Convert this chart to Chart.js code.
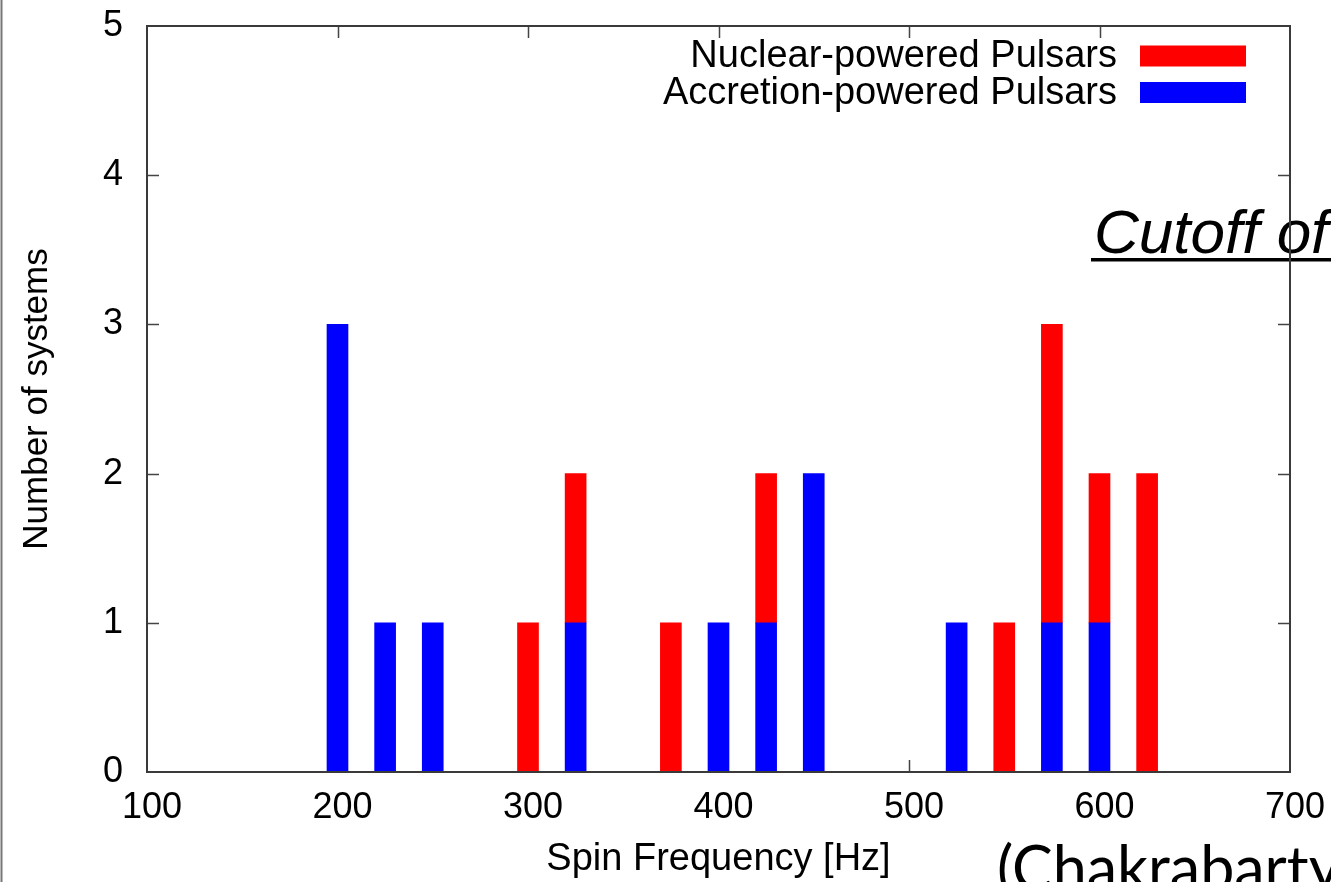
<!DOCTYPE html>
<html>
<head>
<meta charset="utf-8">
<script src="https://cdn.jsdelivr.net/npm/chart.js@4/dist/chart.umd.min.js"></script>
<style>
html,body{margin:0;padding:0;background:#fff;}
canvas{display:block;}
</style>
</head>
<body>
<canvas id="c" width="1331" height="882"></canvas>
<script>
// ---- data ----
const accretionFreq  = [200, 225, 250, 325, 400, 425, 450, 525, 575, 600];
const accretionCount = [3,   1,   1,   1,   1,   1,   2,   1,   1,   1];
const nuclearFreq    = [300, 325, 375, 425, 550, 575, 600, 625];
const nuclearCount   = [1,   1,   1,   1,   1,   2,   1,   2];
const seriesLabels   = ["Accretion-powered Pulsars", "Nuclear-powered Pulsars"];
const xAxisTitle     = "Spin Frequency [Hz]";
const yAxisTitle     = "Number of systems";
const noteText       = "Cutoff of";
const refText        = "(Chakrabarty";

const toPoints = (xs, ys) => xs.map((v, i) => ({x: v, y: ys[i]}));

const FONT = "'Liberation Sans', Arial, Helvetica, sans-serif";

const frameTicks = {
  id: 'frameTicks',
  beforeDatasetsDraw(chart) {
    const {ctx, chartArea: {left, right, top, bottom}, scales: {x, y}} = chart;
    ctx.save();
    ctx.strokeStyle = '#444';
    ctx.lineWidth = 1.5;
    ctx.beginPath();
    x.ticks.forEach(t => {
      const px = Math.round(x.getPixelForValue(t.value)) + 0.5;
      if (px <= left + 2 || px >= right - 2) return;
      ctx.moveTo(px, bottom); ctx.lineTo(px, bottom - 12);
      ctx.moveTo(px, top); ctx.lineTo(px, top + 12);
    });
    y.ticks.forEach(t => {
      const py = Math.round(y.getPixelForValue(t.value)) + 0.5;
      if (py <= top + 2 || py >= bottom - 2) return;
      ctx.moveTo(left, py); ctx.lineTo(left + 12, py);
      ctx.moveTo(right, py); ctx.lineTo(right - 12, py);
    });
    ctx.stroke();
    ctx.restore();
  },
  afterDatasetsDraw(chart) {
    const {ctx, chartArea: {left, right, top, bottom}} = chart;
    ctx.save();
    ctx.strokeStyle = '#3a3a3a';
    ctx.lineWidth = 2;
    ctx.strokeRect(Math.round(left), Math.round(top), Math.round(right - left), Math.round(bottom - top));
    ctx.restore();
  },
  afterDraw(chart) {
    const {ctx, chartArea: {right, top}} = chart;
    ctx.save();
    // legend (reverse dataset order, text right-aligned, swatch right)
    const ds = chart.data.datasets.slice().reverse();
    ctx.font = "38px " + FONT;
    ctx.textAlign = 'right';
    ctx.textBaseline = 'middle';
    ds.forEach((d, i) => {
      const cy = 56 + i * 36.5;
      ctx.fillStyle = '#000';
      ctx.fillText(d.label, 1117, cy + 1);
      ctx.fillStyle = d.backgroundColor;
      ctx.fillRect(1140, cy - 10.5, 106, 21);
    });
    // overlay note
    ctx.fillStyle = '#000';
    ctx.textAlign = 'left';
    ctx.textBaseline = 'alphabetic';
    ctx.font = "italic 62px " + FONT;
    ctx.fillText(noteText, 1094, 253);
    ctx.fillRect(1091, 258, 245, 3.5);
    // reference
    ctx.font = "61px Lato, 'Open Sans', sans-serif";
    ctx.fillText(refText, 997, 890);
    // left edge line
    ctx.strokeStyle = '#777';
    ctx.lineWidth = 2;
    ctx.beginPath();
    ctx.moveTo(1.5, 0); ctx.lineTo(1.5, 882);
    ctx.stroke();
    // redraw right frame over note
    ctx.strokeStyle = '#3a3a3a';
    ctx.lineWidth = 2;
    ctx.beginPath();
    ctx.moveTo(Math.round(right), top); ctx.lineTo(Math.round(right), chart.chartArea.bottom);
    ctx.stroke();
    ctx.restore();
  }
};

function zeroPad(s) { s.paddingTop = 0; s.paddingBottom = 0; s.paddingLeft = 0; s.paddingRight = 0; }

new Chart(document.getElementById('c'), {
  type: 'bar',
  data: {
    datasets: [
      {label: seriesLabels[0], data: toPoints(accretionFreq, accretionCount), backgroundColor: '#0000ff', borderWidth: 0, barThickness: 21},
      {label: seriesLabels[1], data: toPoints(nuclearFreq, nuclearCount), backgroundColor: '#ff0000', borderWidth: 0, barThickness: 21}
    ]
  },
  options: {
    responsive: false,
    animation: false,
    devicePixelRatio: 1,
    layout: {padding: {left: 0, right: 41, top: 26, bottom: 0}},
    plugins: {legend: {display: false}, tooltip: {enabled: false}},
    scales: {
      x: {
        type: 'linear', stacked: true, min: 100, max: 700,
        offset: false,
        grid: {display: false, drawTicks: false},
        border: {display: false},
        ticks: {stepSize: 100, color: '#000', font: {family: FONT, size: 36}, padding: 14, maxRotation: 0, labelOffset: 5},
        title: {display: true, text: xAxisTitle, color: '#000', font: {family: FONT, size: 38}, padding: {top: 0, bottom: 0}},
        afterFit(s) { s.height = 110; zeroPad(s); }
      },
      y: {
        stacked: true, min: 0, max: 5,
        grid: {display: false, drawTicks: false},
        border: {display: false},
        ticks: {stepSize: 1, color: '#000', font: {family: FONT, size: 36}, padding: 24},
        title: {display: true, text: yAxisTitle, color: '#000', font: {family: FONT, size: 35}, padding: {top: 16, bottom: 0}},
        afterFit(s) { s.width = 147; zeroPad(s); }
      }
    }
  },
  plugins: [frameTicks]
});
</script>
</body>
</html>
